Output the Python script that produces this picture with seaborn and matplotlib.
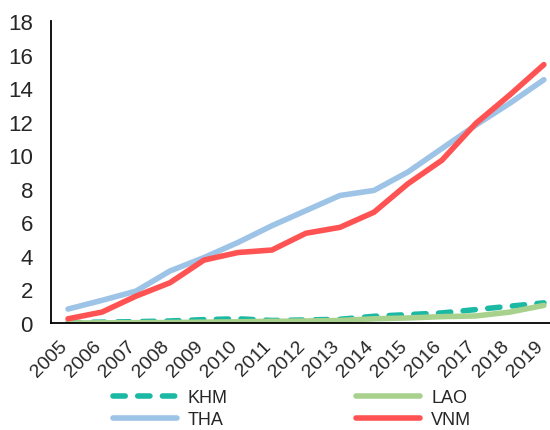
import matplotlib
matplotlib.use("Agg")
import matplotlib.pyplot as plt
import matplotlib.transforms as mtransforms
import seaborn as sns
import pandas as pd

years = [str(y) for y in range(2005, 2020)]
khm = [0.02, 0.05, 0.08, 0.12, 0.2, 0.25, 0.15, 0.18, 0.22, 0.4, 0.5, 0.6, 0.8, 1.0, 1.2]
lao = [0.0, 0.01, 0.02, 0.03, 0.05, 0.07, 0.1, 0.12, 0.15, 0.25, 0.3, 0.38, 0.42, 0.65, 1.05]
tha = [0.83, 1.35, 1.9, 3.1, 3.9, 4.8, 5.8, 6.7, 7.6, 7.9, 9.0, 10.4, 11.8, 13.1, 14.5]
vnm = [0.25, 0.65, 1.6, 2.4, 3.75, 4.2, 4.35, 5.35, 5.7, 6.6, 8.3, 9.7, 11.9, 13.6, 15.4]
series = {"KHM": khm, "LAO": lao, "THA": tha, "VNM": vnm}
colors = {"KHM": "#1BB8A3", "LAO": "#A9D18E", "THA": "#9DC3E6", "VNM": "#FF5252"}

sns.set_style("white")
plt.rcParams['font.family'] = ['Liberation Sans', 'DejaVu Sans']

fig = plt.figure(figsize=(5.5, 4.31), dpi=100)
ax = fig.add_axes([51 / 550, 1 - 324 / 431, 1 - 51 / 550, (324 - 22) / 431])

x = list(range(len(years)))
for name in ["THA", "KHM", "LAO", "VNM"]:
    df = pd.DataFrame({"x": x, "y": series[name]})
    sns.lineplot(data=df, x="x", y="y", ax=ax, color=colors[name], lw=4.0,
                 label=name, solid_capstyle="round", dash_capstyle="round")
    if name == "KHM":
        ax.lines[-1].set_dashes([2.2, 2.25])

ax.set_xlim(-0.5, 14.18)
ax.set_ylim(0, 18)
ax.set_yticks(range(0, 19, 2))
ax.set_xticks(x)
ax.set_xticklabels(years, rotation=45, ha="right", va="baseline", rotation_mode="anchor", fontsize=14)
off = mtransforms.ScaledTranslation(1 / 100, 0, fig.dpi_scale_trans)
for lbl in ax.get_xticklabels():
    lbl.set_transform(lbl.get_transform() + off)
ax.tick_params(axis="y", labelsize=16, length=0, pad=13)
ax.tick_params(axis="x", length=0, pad=17)
ax.set_xlabel("")
ax.set_ylabel("")
for s in ["top", "right"]:
    ax.spines[s].set_visible(False)
for s in ["left", "bottom"]:
    ax.spines[s].set_color("black")
    ax.spines[s].set_linewidth(1.3)
ax.grid(False)

handles, labels = ax.get_legend_handles_labels()
hmap = dict(zip(labels, handles))
order = ["KHM", "THA", "LAO", "VNM"]
ax.get_legend().remove()
fig.legend([hmap[k] for k in order], order, loc="upper left",
           bbox_to_anchor=(113 / 550, 1 - 390 / 431), borderaxespad=0, borderpad=0,
           ncol=2, frameon=False, fontsize=13, handlelength=3.55, columnspacing=7.1,
           handletextpad=0.6, labelspacing=0.3)

fig.savefig("out.png", dpi=100)
